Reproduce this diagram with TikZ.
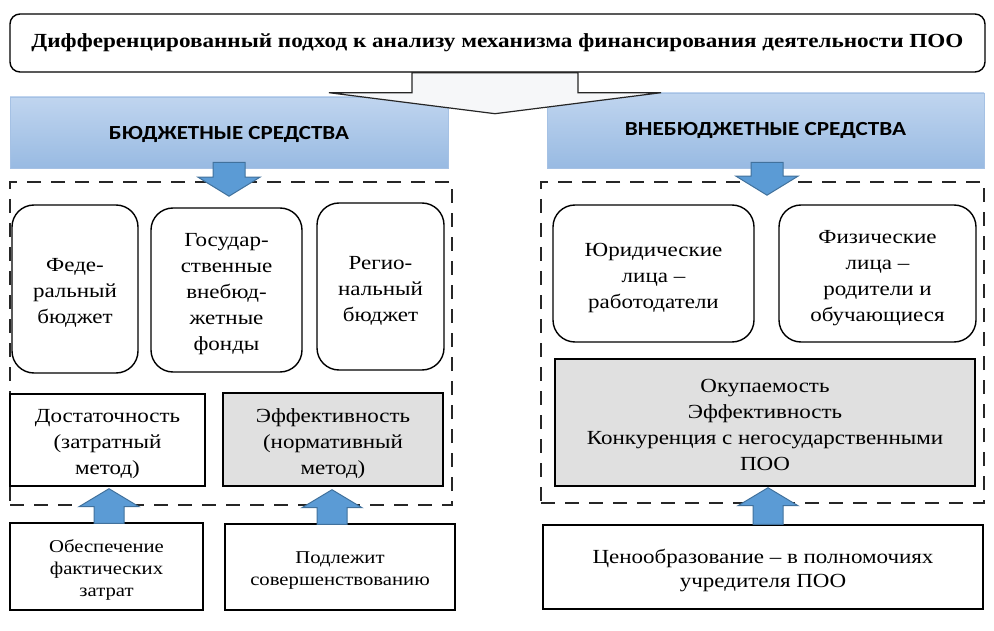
\documentclass[tikz,border=0pt]{standalone}
\usepackage{fontspec}
\setmainfont{Liberation Serif}
\newfontfamily\hdrfont{Carlito}
\usetikzlibrary{calc}
\definecolor{barTop}{RGB}{192,213,239}
\definecolor{barBot}{RGB}{152,186,226}
\definecolor{barEdge}{RGB}{165,193,228}
\definecolor{arrFill}{RGB}{91,155,213}
\definecolor{arrEdge}{RGB}{65,113,156}
\definecolor{grayFill}{RGB}{224,224,224}
\definecolor{bigFill}{RGB}{246,247,249}
\newcommand\stx[1]{\raisebox{-3.5pt}[\height][\depth]{\scalebox{1.15}[1]{\begin{tabular}{@{}c@{}}#1\end{tabular}}}}
\tikzset{
 box/.style={draw=black, line width=1.4pt, align=center, inner sep=0pt, font=\fontsize{20}{26}\selectfont},
 rbox/.style={box, rounded corners=22pt},
 gbox/.style={box, fill=grayFill},
 smallbox/.style={box, font=\fontsize{18}{22}\selectfont},
 bar/.style={draw=barEdge, line width=0.6pt, top color=barTop, bottom color=barBot, inner sep=0pt, font=\hdrfont\bfseries\fontsize{20}{24}\selectfont},
 dashbox/.style={draw=black!85, line width=1.6pt, dash pattern=on 14pt off 10pt, inner sep=0pt},
 bluearr/.style={fill=arrFill, draw=arrEdge, line width=1pt},
 whitearr/.style={fill=bigFill, draw=black!85, line width=1.2pt},
}
\newcommand\varrow[6]{\draw[#1] let \p1=#2, \p2=#3 in (\x2-#4,\y1) -- (\x2-#4,\y2#6) -- (\x2-#5,\y2#6) -- (\x2,\y2) -- (\x2+#5,\y2#6) -- (\x2+#4,\y2#6) -- (\x2+#4,\y1) -- cycle;}
\begin{document}
\begin{tikzpicture}[x=1pt,y=-1pt]
\useasboundingbox (0,0) rectangle (994,631);
% title
\node[box, rounded corners=10pt, minimum width=975pt, minimum height=58pt, font=\fontsize{20}{24}\selectfont\bfseries] (title) at (497.5,43) {\resizebox{932pt}{\height}{Дифференцированный подход к анализу механизма финансирования деятельности ПОО}};
% bars
\node[bar, minimum width=438pt, minimum height=71pt] (lbar) at (229,132.5) {\raisebox{-2pt}[\height][\depth]{\resizebox{240pt}{\height}{БЮДЖЕТНЫЕ СРЕДСТВА}}};
\node[bar, minimum width=437pt, minimum height=75pt] (rbar) at (765.5,130.5) {\resizebox{281pt}{\height}{ВНЕБЮДЖЕТНЫЕ СРЕДСТВА}};
% big arrow
\varrow{whitearr}{($(title.south)+(-2.5,0)$)}{($(title.south)+(-2.5,41)$)}{83pt}{166pt}{+21pt}
% dashed groups
\node[dashbox, minimum width=442pt, minimum height=323pt] (ldash) at (231,343.5) {};
\node[dashbox, minimum width=443pt, minimum height=321pt] (rdash) at (762.5,342.5) {};
% down arrows
\varrow{bluearr}{($(lbar.south)+(0,-6)$)}{($(ldash.north)+(-2,15)$)}{16pt}{31pt}{+19pt}
\varrow{bluearr}{($(rbar.south)+(0,-6)$)}{($(rdash.north)+(4.5,14)$)}{16pt}{31pt}{+19pt}
% rounded source boxes
\node[rbox, minimum width=126pt, minimum height=168pt] (fed) at (75,289) {\stx{Феде-\\ральный\\бюджет}};
\node[rbox, minimum width=151pt, minimum height=164pt] (gos) at (226.5,290) {\stx{Государ-\\ственные\\внебюд-\\жетные\\фонды}};
\node[rbox, minimum width=127pt, minimum height=167pt] (reg) at (380.5,286.5) {\stx{Регио-\\нальный\\бюджет}};
\node[rbox, minimum width=201pt, minimum height=137pt] (yur) at (653.5,273.5) {\stx{Юридические\\лица –\\работодатели}};
\node[rbox, minimum width=197pt, minimum height=137pt] (fiz) at (877.5,273.5) {\stx{Физические\\лица –\\родители и\\обучающиеся}};
% criteria boxes
\node[box, minimum width=195pt, minimum height=92pt] (dost) at (107.5,440) {\stx{Достаточность\\(затратный\\метод)}};
\node[gbox, minimum width=220pt, minimum height=93pt] (eff) at (333,439.5) {\stx{Эффективность\\(нормативный\\метод)}};
\node[gbox, minimum width=420pt, minimum height=127pt] (okup) at (765,422.5) {\stx{Окупаемость\\Эффективность\\Конкуренция с негосударственными\\ПОО}};
% bottom boxes
\node[smallbox, minimum width=193pt, minimum height=87pt] (obesp) at (106.5,566.5) {\stx{Обеспечение\\фактических\\затрат}};
\node[smallbox, minimum width=230pt, minimum height=86pt] (podl) at (340,567) {\stx{Подлежит\\совершенствованию}};
\node[box, minimum width=440pt, minimum height=84pt, font=\fontsize{20}{24}\selectfont] (cen) at (763,567) {\stx{Ценообразование – в полномочиях\\учредителя ПОО}};
% up arrows
\varrow{bluearr}{($(obesp.north)+(0,1)$)}{($(dost.south)+(1.5,2)$)}{15pt}{30pt}{-18pt}
\varrow{bluearr}{($(podl.north)+(0,1)$)}{($(eff.south)+(-1,3)$)}{15pt}{30pt}{-18pt}
\varrow{bluearr}{($(cen.north)+(0,0)$)}{($(okup.south)+(3,1)$)}{15pt}{30pt}{-18pt}
\end{tikzpicture}
\end{document}
